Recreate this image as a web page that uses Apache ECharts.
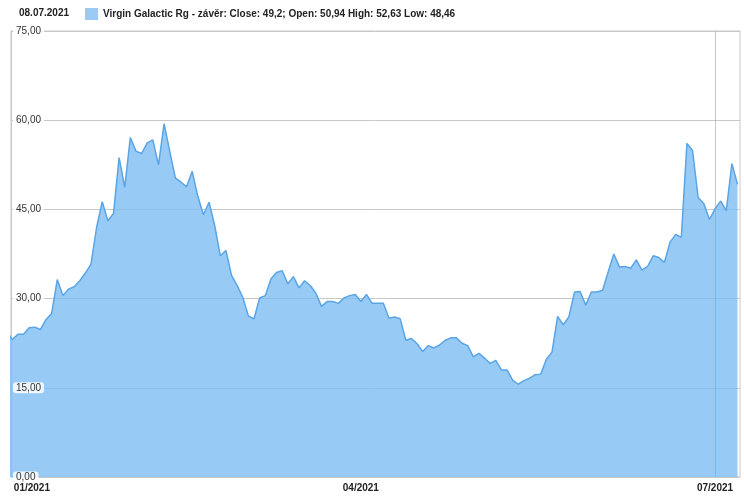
<!DOCTYPE html>
<html lang="cs">
<head>
  <meta charset="UTF-8">
  <title>Virgin Galactic Rg</title>
  <script src="https://cdn.jsdelivr.net/npm/echarts@6/dist/echarts.min.js"></script>
  <style>
    body { margin: 0; }
  </style>
</head>
<body>
  <div id="app" style="width: 744px; height: 502px;"></div>
  <script>
    // closing prices, one per trading day (30.12.2020 .. 08.07.2021)
    var closes = [
      24.5, 23.1, 24.0, 24.0, 25.1, 25.2, 24.8, 26.5, 27.5, 33.2,
      30.5, 31.6, 32.0, 33.0, 34.3, 35.8, 42.0, 46.3, 43.1, 44.3,
      53.7, 48.7, 57.1, 54.8, 54.4, 56.2, 56.7, 52.5, 59.4, 54.8,
      50.3, 49.6, 48.8, 51.4, 47.2, 44.1, 46.2, 42.3, 37.2, 38.1,
      33.9, 32.2, 30.2, 27.1, 26.6, 30.1, 30.5, 33.3, 34.4, 34.7,
      32.5, 33.7, 31.8, 33.0, 32.2, 30.9, 28.7, 29.5, 29.5, 29.2,
      30.1, 30.5, 30.7, 29.5, 30.7, 29.2, 29.2, 29.2, 26.7, 26.9,
      26.6, 23.0, 23.3, 22.4, 21.1, 22.1, 21.7, 22.2, 23.0, 23.4,
      23.4, 22.5, 22.1, 20.2, 20.8, 20.0, 19.1, 19.6, 18.0, 18.0,
      16.3, 15.6, 16.2, 16.6, 17.2, 17.3, 19.8, 21.0, 27.0, 25.6,
      26.9, 31.1, 31.2, 28.9, 31.1, 31.1, 31.4, 34.5, 37.5, 35.3,
      35.4, 35.1, 36.5, 34.8, 35.4, 37.2, 36.9, 36.1, 39.5, 40.8,
      40.3, 56.1, 54.9, 47.0, 46.0, 43.3, 45.1, 46.4, 44.8, 52.7,
      49.2
    ]
    // first trading day of each labelled month (index into closes)
    var tickIdx = [2, 63, 126]
    var tickLabels = ['01/2021', '04/2021', '07/2021']
    var markIdx = 126

    var seriesName = 'Virgin Galactic Rg - závěr: Close: 49,2; Open: 50,94 High: 52,63 Low: 48,46'
    var font = 'Liberation Sans, Arial, sans-serif'

    var points = []
    for (var i = 0; i < closes.length; i++) {
      points.push([i, closes[i]])
    }

    var mCharts = echarts.init(document.querySelector('#app'))
    var option = {
      animation: false,
      title: {
        text: '08.07.2021',
        left: 19,
        top: 8,
        padding: 0,
        textStyle: { fontSize: 10, fontWeight: 'bold', color: '#222', fontFamily: font }
      },
      legend: {
        left: 85,
        top: 8,
        padding: 0,
        icon: 'rect',
        itemWidth: 13,
        itemHeight: 12,
        itemStyle: { borderWidth: 0 },
        textStyle: { fontSize: 10, fontWeight: 'bold', color: '#222', fontFamily: font },
        data: [seriesName]
      },
      grid: {
        left: 11,
        right: 4,
        top: 31,
        bottom: 25,
        show: true,
        borderColor: '#c8c8c8',
        borderWidth: 1
      },
      xAxis: {
        type: 'value',
        // the first day is cut by the left edge, a small gap is left on the right
        min: 0.77,
        max: 130.44,
        axisLine: { show: false },
        axisTick: { show: false },
        splitLine: { show: false },
        axisLabel: {
          customValues: tickIdx,
          margin: 6,
          fontSize: 10,
          fontWeight: 'bold',
          color: '#222',
          fontFamily: font,
          formatter: function (v) {
            var k = tickIdx.indexOf(v)
            if (k === 0) return '{first|' + tickLabels[k] + '}'
            return k < 0 ? '' : tickLabels[k]
          },
          rich: {
            first: { padding: [0, 0, 0, 28], fontSize: 10, fontWeight: 'bold', color: '#222', fontFamily: font }
          }
        }
      },
      yAxis: [
        {
          type: 'value',
          min: 0,
          max: 75,
          interval: 15,
          axisLine: { show: true, lineStyle: { color: '#c8c8c8' } },
          axisTick: { show: false },
          axisLabel: { show: false },
          splitLine: { lineStyle: { color: '#c8c8c8' } }
        },
        {
          type: 'value',
          min: 0,
          max: 75,
          interval: 15,
          position: 'left',
          z: 10,
          axisLine: { show: false },
          axisTick: { show: false },
          splitLine: { show: false },
          axisLabel: {
            inside: true,
            margin: 2,
            fontSize: 10,
            color: '#333',
            fontFamily: font,
            backgroundColor: 'rgba(255,255,255,0.85)',
            borderRadius: 3,
            padding: [1, 3, 0, 3],
            formatter: function (v) {
              return v.toFixed(2).replace('.', ',')
            }
          }
        }
      ],
      series: [
        {
          name: seriesName,
          type: 'line',
          data: points,
          showSymbol: false,
          symbol: 'none',
          itemStyle: { color: '#9acbf4' },
          lineStyle: { color: '#5aa5e6', width: 1.5 },
          areaStyle: { color: '#7dbdf2', opacity: 0.8 },
          markLine: {
            silent: true,
            symbol: 'none',
            label: { show: false },
            lineStyle: { color: 'rgba(160,160,160,0.6)', width: 1, type: 'solid' },
            data: [{ xAxis: markIdx }]
          }
        }
      ]
    }
    mCharts.setOption(option)
  </script>
</body>
</html>
